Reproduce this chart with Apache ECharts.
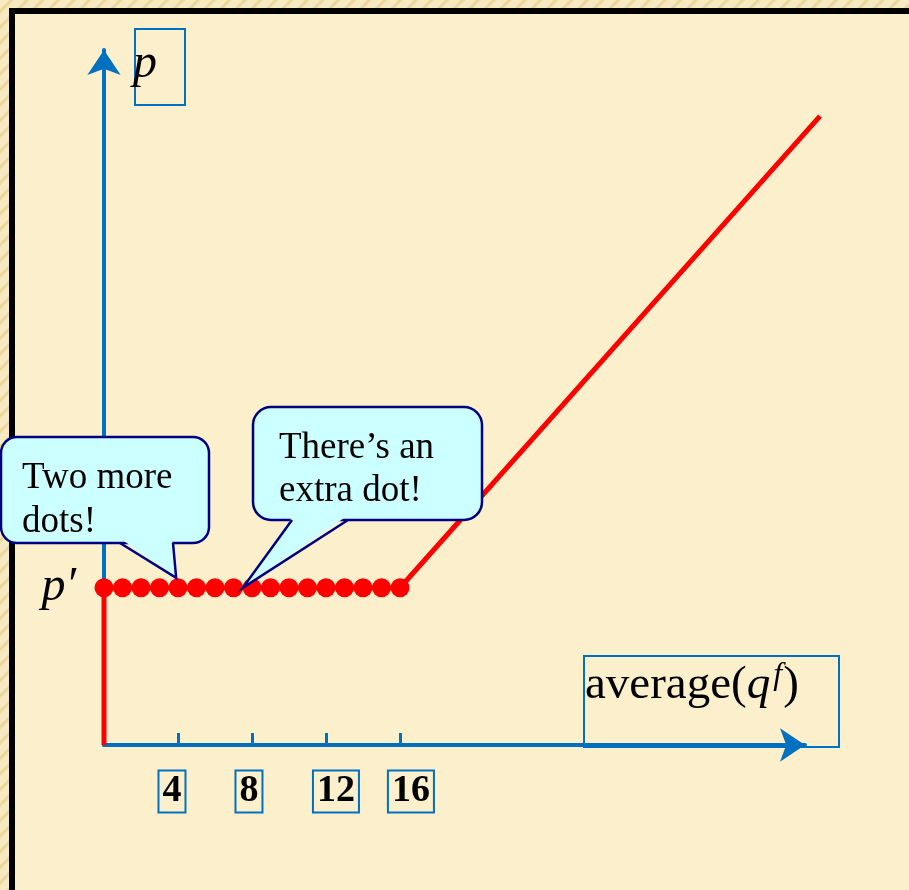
<!DOCTYPE html>
<html>
<head>
<meta charset="utf-8">
<script src="https://cdn.jsdelivr.net/npm/echarts@6/dist/echarts.min.js"></script>
<style>
  html, body { margin: 0; padding: 0; }
  body {
    width: 909px; height: 890px; overflow: hidden; position: relative;
    background: repeating-linear-gradient(135deg, #f7e9c1 0px, #f7e9c1 6px, #e9d290 8px, #f7e9c1 11px);
  }
  #paper {
    position: absolute; left: 9px; top: 8px; width: 1000px; height: 1000px;
    background: #fcefcb; border-left: 6px solid #000; border-top: 6px solid #000;
  }
  #chart { position: absolute; left: 0; top: 0; width: 909px; height: 890px; }
</style>
</head>
<body>
<div id="paper"></div>
<div id="chart"></div>
<script>
// price level p' and the dots sitting on it
const pPrime = 8.5;
const dotX = [0, 1, 2, 3, 4, 5, 6, 7, 8, 9, 10, 11, 12, 13, 14, 15, 16];
// red supply path: up the axis, flat at p', then rising
const pathX = [0, 0, 16, 38.7];
const pathY = [0, pPrime, pPrime, 34];
const tickValues = [4, 8, 12, 16];
// callouts: text and the data point the tail points to
const noteText = ["Two more\ndots!", "There\u2019s an\nextra dot!"];
const noteAt = [[3.9, pPrime], [7.5, pPrime]];

const blue = "#0070C0";
const red = "#ff0000";
const serif = "Liberation Serif";
// the boxed tick labels sit a little off their ticks in the slide
const labelShift = { 4: -6, 8: -3, 12: 10, 16: 11 };

var myChart = echarts.init(document.getElementById("chart"));

var hidden = { show: false };

var option = {
  backgroundColor: "transparent",
  animation: false,
  grid: [
    { left: 104, top: 50, width: 701, height: 695 },   // visible axes
    { left: 104, top: 50, width: 716, height: 695 },   // wider plot for the red path
  ],
  xAxis: [
    {
      type: "value",
      gridIndex: 0,
      min: 0,
      max: 37.9,
      splitLine: hidden,
      axisLine: {
        symbol: ["none", "arrow"],
        symbolSize: [25, 25],
        lineStyle: { color: blue, width: 4 },
      },
      axisTick: {
        show: true,
        inside: true,
        length: 12,
        customValues: tickValues,
        lineStyle: { color: blue, width: 3 },
      },
      axisLabel: {
        customValues: tickValues,
        margin: 25,
      },
    },
    {
      type: "value", gridIndex: 1, min: 0, max: 38.7,
      show: false, splitLine: hidden,
    },
  ],
  yAxis: [
    {
      type: "value",
      gridIndex: 0,
      min: 0,
      max: 37.57,
      splitLine: hidden,
      axisLine: {
        symbol: ["none", "arrow"],
        symbolSize: [25, 25],
        lineStyle: { color: blue, width: 4 },
      },
      axisTick: hidden,
      axisLabel: {
        customValues: [pPrime],
        formatter: function () { return "p\u2032"; },
        margin: 28,
        color: "#000",
        fontFamily: serif,
        fontStyle: "italic",
        fontSize: 48,
        padding: [0, 0, 34, 0],
      },
    },
    {
      type: "value", gridIndex: 1, min: 0, max: 37.57,
      show: false, splitLine: hidden,
    },
  ],
  series: [
    {
      type: "line",
      xAxisIndex: 1,
      yAxisIndex: 1,
      data: pathX.map(function (x, i) { return [x, pathY[i]]; }),
      showSymbol: false,
      lineStyle: { color: red, width: 5 },
      z: 3,
    },
    {
      type: "scatter",
      xAxisIndex: 1,
      yAxisIndex: 1,
      data: dotX.map(function (x) { return [x, pPrime]; }),
      symbolSize: 19,
      itemStyle: { color: red, opacity: 1 },
      z: 4,
    },
  ],
};

// boxed tick labels: a transparent spacer on one side nudges the box off the tick
var rich = {
  b: {
    color: "#000", fontFamily: serif, fontWeight: "bold", fontSize: 38, lineHeight: 43,
    padding: [2, 4, 2, 4], borderColor: blue, borderWidth: 2,
  },
};
Object.keys(labelShift).forEach(function (k) {
  rich["g" + k] = { width: Math.abs(labelShift[k]) * 2, height: 10 };
});
option.xAxis[0].axisLabel.rich = rich;
option.xAxis[0].axisLabel.formatter = function (v) {
  var s = labelShift[v] || 0;
  var box = "{b|" + v + "}";
  var gap = "{g" + v + "|}";
  if (s > 0) return gap + box;
  if (s < 0) return box + gap;
  return box;
};

myChart.setOption(option);

var tip1 = myChart.convertToPixel({ gridIndex: 1 }, noteAt[0]);
tip1[1] -= 10;
var tip2 = myChart.convertToPixel({ gridIndex: 1 }, noteAt[1]);

var bubbleFill = "#ccffff";
var bubbleLine = "#000080";

// speech bubble = rounded box + filled tail + tail outline
function bubble(x, y, w, h, r, baseL, baseR, tip) {
  var b = y + h;
  return [
    {
      type: "rect", z: 100,
      shape: { x: x, y: y, width: w, height: h, r: r },
      style: { fill: bubbleFill, stroke: bubbleLine, lineWidth: 2.5 },
    },
    {
      type: "polygon", z: 101,
      shape: { points: [[baseL + 1, b - 4], tip, [baseR - 1, b - 4]] },
      style: { fill: bubbleFill },
    },
    {
      type: "polyline", z: 102,
      shape: { points: [[baseL, b], tip, [baseR, b]] },
      style: { fill: null, stroke: bubbleLine, lineWidth: 2.5, lineJoin: "miter" },
    },
  ];
}

// x-axis name "average(q^f)" laid out piece by piece
var ctx = document.createElement("canvas").getContext("2d");
function textW(str, font) { ctx.font = font; return ctx.measureText(str).width; }
var fMain = "47px '" + serif + "'";
var fItal = "italic 47px '" + serif + "'";
var fSup = "italic 32px '" + serif + "'";
var ax = 585;
var qx = ax + textW("average(", fMain);
var fx = qx + textW("q", fItal) + 3;
var px = fx + textW("f", fSup) + 1;

function word(x, y, str, font) {
  return { type: "text", z: 51, x: x, y: y, style: { text: str, font: font, fill: "#000", verticalAlign: "middle" } };
}

var graphics = []
  .concat(bubble(1, 437, 208, 106, 16, 120, 173, tip1))
  .concat(bubble(253, 407, 229, 113, 18, 292, 348, tip2))
  .concat([
    {
      type: "text", z: 103, x: 22, y: 456,
      style: { text: noteText[0], font: "37px '" + serif + "'", fill: "#000", lineHeight: 44, verticalAlign: "top" },
    },
    {
      type: "text", z: 103, x: 279, y: 427,
      style: { text: noteText[1], font: "37px '" + serif + "'", fill: "#000", lineHeight: 43, verticalAlign: "top" },
    },
    // axis name boxes
    {
      type: "rect", z: 50,
      shape: { x: 135, y: 29, width: 50, height: 76 },
      style: { fill: "none", stroke: blue, lineWidth: 2 },
    },
    word(133, 64, "p", "italic 48px '" + serif + "'"),
    {
      type: "rect", z: 50,
      shape: { x: 584, y: 656, width: 255, height: 91 },
      style: { fill: "none", stroke: blue, lineWidth: 2 },
    },
    word(ax, 686, "average(", fMain),
    word(qx, 686, "q", fItal),
    word(fx, 676, "f", fSup),
    word(px, 686, ")", fMain),
  ]);

myChart.setOption({ graphic: graphics });
</script>
</body>
</html>
